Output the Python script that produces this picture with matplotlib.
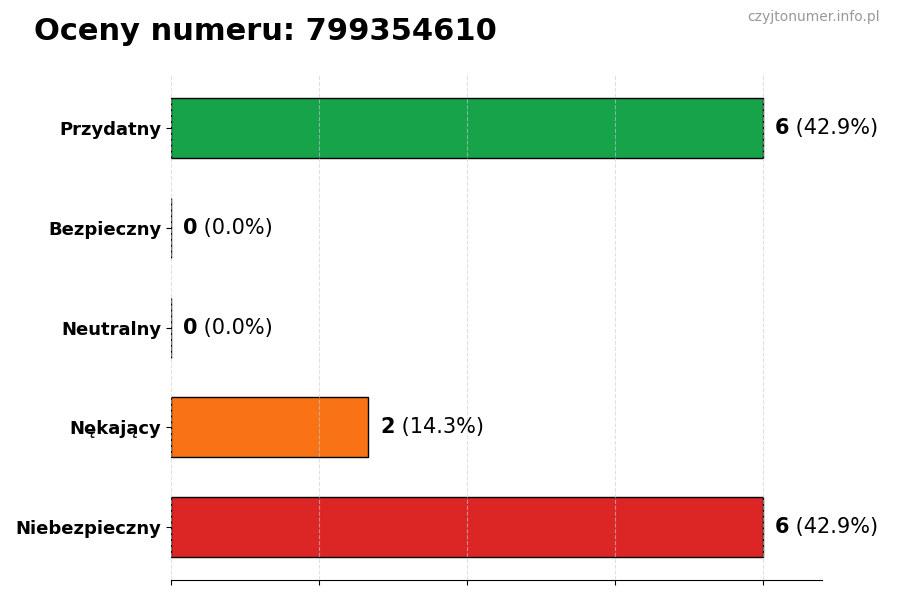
import matplotlib.pyplot as plt

categories = ["Przydatny", "Bezpieczny", "Neutralny", "Nękający", "Niebezpieczny"]
counts = [6, 0, 0, 2, 6]
colors = ["#16a34a", "#22c55e", "#9ca3af", "#f97316", "#dc2626"]
phone = "799354610"

total = sum(counts)
max_val = max(counts)

fig = plt.figure(figsize=(9, 6), dpi=100)
ax = fig.add_axes([0.19, 0.033, 0.723, 0.842])

y = list(range(len(categories)))[::-1]
ax.barh(y, counts, height=0.6, color=colors, edgecolor="black", linewidth=1, zorder=2)

for yi, c in zip(y, counts):
    pct = c / total * 100
    off = max_val * 0.02
    t = ax.text(c + off, yi, f"{c}", va="center", ha="left", fontsize=15, fontweight="bold")
    ax.annotate(f" ({pct:.1f}%)", xycoords=t, xy=(1, 0), va="bottom", ha="left", fontsize=15)

ax.set_yticks(y)
ax.set_yticklabels(categories, fontsize=13, fontweight="bold")
ax.set_xlim(0, max_val * 1.1)
ax.set_xticks([0, 1.5, 3, 4.5, 6])
ax.set_xticklabels([])
ax.grid(axis="x", linestyle="--", color="#cccccc", alpha=0.6, zorder=3)
ax.set_axisbelow(False)
for s in ["top", "right", "left"]:
    ax.spines[s].set_visible(False)

fig.text(0.038, 0.948, f"Oceny numeru: {phone}", fontsize=22, fontweight="bold", va="center", ha="left")
fig.text(0.978, 0.971, "czyjtonumer.info.pl", fontsize=10, color="#999999", va="center", ha="right")

fig.savefig("out.png", dpi=100)
